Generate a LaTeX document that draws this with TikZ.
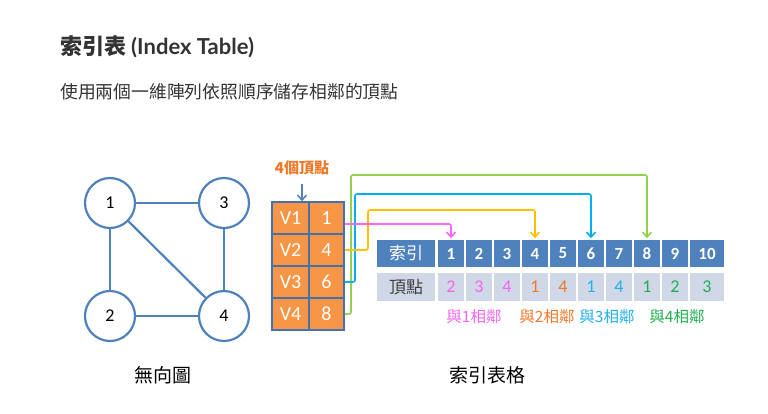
\documentclass[tikz,border=0pt]{standalone}
\usepackage{fontspec}
\setmainfont{Carlito}
\newfontfamily\cjk{Noto Sans CJK TC}
\newfontfamily\latofont{Lato}
\usetikzlibrary{arrows.meta}
\definecolor{gblue}{HTML}{4F81BD}
\definecolor{tborder}{HTML}{4472B0}
\definecolor{orfill}{HTML}{F79646}
\definecolor{rowgray}{HTML}{D0D8E8}
\definecolor{cmag}{HTML}{FF66FF}
\definecolor{cyel}{HTML}{FFC000}
\definecolor{csky}{HTML}{00B0F0}
\definecolor{cgrn}{HTML}{92D050}
\definecolor{tmag}{HTML}{F464F0}
\definecolor{tora}{HTML}{F07828}
\definecolor{tsky}{HTML}{20B0F0}
\definecolor{tgrn}{HTML}{20AE50}
\definecolor{txt}{HTML}{333333}
\definecolor{dtxt}{HTML}{404040}
\begin{document}
\begin{tikzpicture}[x=1pt,y=-1pt,
  gnode/.style={circle, draw=gblue, line width=2.2pt, fill=white, minimum size=50pt, inner sep=0pt, font=\fontsize{18}{18}\selectfont, text=black},
  gedge/.style={draw=gblue, line width=2.2pt},
  ocell/.style={draw=tborder, line width=1.6pt, fill=orfill, text=white, minimum height=32pt, inner sep=0pt, font=\fontsize{20}{20}\selectfont},
  hcell/.style={fill=gblue, draw=white, line width=1.5pt, minimum height=29pt, minimum width=28pt, inner sep=0pt, text=white, font=\fontsize{17}{17}\selectfont\bfseries},
  vcell/.style={fill=rowgray, draw=white, line width=1.5pt, minimum height=30pt, minimum width=28pt, inner sep=0pt, font=\fontsize{18}{18}\selectfont},
  link/.style={line width=1.6pt, rounded corners=2pt, -{Straight Barb[length=5pt,width=9pt]}},
  lbl/.style={inner sep=0pt, font=\cjk\fontsize{#1}{#1}\selectfont}
]
\useasboundingbox (0,0) rectangle (768,413);

% titles
\node[anchor=west, inner sep=0pt, text=txt, font=\fontsize{22}{22}\selectfont] (title) at (60,47) {{\cjk\bfseries 索引表} {\latofont\bfseries (Index Table)}};
\node[anchor=west, lbl=17.8, text=txt] (sub) at (60,92) {使用兩個一維陣列依照順序儲存相鄰的頂點};

% graph
\node[gnode] (g1) at (110,203) {1};
\node[gnode] (g3) at (224,203) {3};
\node[gnode] (g2) at (110,316) {2};
\node[gnode] (g4) at (224,316) {4};
\draw[gedge] (g1) -- (g3);
\draw[gedge] (g1) -- (g2);
\draw[gedge] (g3) -- (g4);
\draw[gedge] (g2) -- (g4);
\draw[gedge] (g1) -- (g4);
\node[lbl=19, text=black] (gcap) at (163,375) {無向圖};

% left table
\node[ocell, minimum width=37pt] (lv1) at (290.5,218) {V1};
\node[ocell, minimum width=35pt] (ln1) at (326.5,218) {1};
\node[ocell, minimum width=37pt] (lv2) at (290.5,250) {V2};
\node[ocell, minimum width=35pt] (ln2) at (326.5,250) {4};
\node[ocell, minimum width=37pt] (lv3) at (290.5,282) {V3};
\node[ocell, minimum width=35pt] (ln3) at (326.5,282) {6};
\node[ocell, minimum width=37pt] (lv4) at (290.5,314) {V4};
\node[ocell, minimum width=35pt] (ln4) at (326.5,314) {8};

\node[lbl=15, text=tora, font=\cjk\bfseries\fontsize{15}{15}\selectfont] (four) at (302,168) {4個頂點};
\coordinate (fourtop) at (302,184);
\draw[gblue, line width=1.5pt, -{Straight Barb[length=5pt,width=9pt]}] (fourtop) -- (fourtop |- lv1.north);

% index table header
\node[hcell, minimum width=60pt, font=\cjk\fontsize{17}{17}\selectfont] (hidx) at (406,253.5) {索引};
\node[hcell] (h1) at (451,253.5) {1};
\node[hcell] (h2) at (479,253.5) {2};
\node[hcell] (h3) at (507,253.5) {3};
\node[hcell] (h4) at (535,253.5) {4};
\node[hcell] (h5) at (563,253.5) {5};
\node[hcell] (h6) at (591,253.5) {6};
\node[hcell] (h7) at (619,253.5) {7};
\node[hcell] (h8) at (647,253.5) {8};
\node[hcell] (h9) at (675,253.5) {9};
\node[hcell, minimum width=36pt] (h10) at (707,253.5) {10};

% values row
\node[vcell, minimum width=60pt, text=dtxt, font=\cjk\fontsize{17}{17}\selectfont] (vidx) at (406,287) {頂點};
\node[vcell, text=tmag] (c1) at (451,287) {2};
\node[vcell, text=tmag] (c2) at (479,287) {3};
\node[vcell, text=tmag] (c3) at (507,287) {4};
\node[vcell, text=tora] (c4) at (535,287) {1};
\node[vcell, text=tora] (c5) at (563,287) {4};
\node[vcell, text=tsky] (c6) at (591,287) {1};
\node[vcell, text=tsky] (c7) at (619,287) {4};
\node[vcell, text=tgrn] (c8) at (647,287) {1};
\node[vcell, text=tgrn] (c9) at (675,287) {2};
\node[vcell, minimum width=36pt, text=tgrn] (c10) at (707,287) {3};

% group labels
\node[lbl=15.5, text=tmag] (a1) at (474,317) {與1相鄰};
\node[lbl=15.5, text=tora] (a2) at (547,317) {與2相鄰};
\node[lbl=15.5, text=tsky] (a3) at (607,317) {與3相鄰};
\node[lbl=15.5, text=tgrn] (a4) at (677,317) {與4相鄰};
\node[lbl=19, text=black] (tcap) at (487,375) {索引表格};

% connectors
\coordinate (ybend) at (368,210);
\coordinate (bbend) at (355,194);
\coordinate (gbend) at (351,175);
\draw[link, cgrn] (ln4.east) -| (gbend) -| (h8.north);
\draw[link, csky] (ln3.east) -| (bbend) -| (h6.north);
\draw[link, cyel] (ln2.east) -| (ybend) -| (h4.north);
\draw[link, cmag] ([yshift=-6pt]ln1.east) -| (h1.north);
\end{tikzpicture}
\end{document}
